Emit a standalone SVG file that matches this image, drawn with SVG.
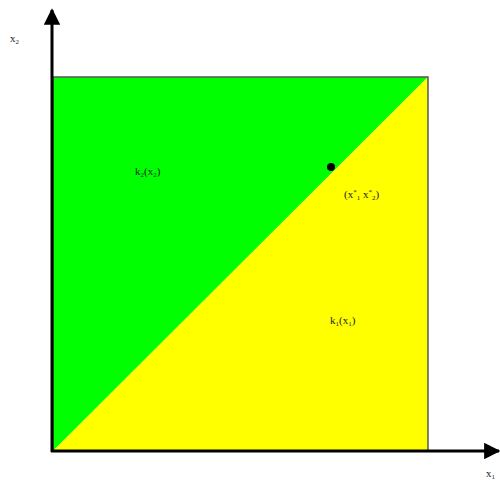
<svg xmlns="http://www.w3.org/2000/svg" width="500" height="483" viewBox="0 0 500 483">
<style>
text{font-family:"Liberation Serif",serif;font-size:11px;fill:#222}
.s{font-size:7px}
.ax{stroke:#000;stroke-width:3;fill:none}
</style>
<defs>
<marker id="ah" viewBox="0 0 10 10" refX="9" refY="5" markerWidth="5.5" markerHeight="5.5" markerUnits="strokeWidth" orient="auto">
<path d="M0,0 L10,5 L0,10 z" fill="#000"/>
</marker>
</defs>
<rect width="500" height="483" fill="#fff"/>
<g id="regions">
<polygon points="53,77 428,77 53,451" fill="#00ff00"/>
<polygon points="428,77 428,451 53,451" fill="#ffff00"/>
<rect x="53" y="77" width="375" height="374" fill="none" stroke="#555" stroke-width="1.5"/>
</g>
<g id="axes">
<line class="ax" x1="52" y1="452" x2="52" y2="10" marker-end="url(#ah)"/>
<line class="ax" x1="51" y1="451" x2="499" y2="451" marker-end="url(#ah)"/>
</g>
<g id="point">
<circle cx="331" cy="167" r="4" fill="#000"/>
</g>
<g id="labels">
<text x="10" y="42">x<tspan class="s" dy="2">2</tspan></text>
<text x="486" y="477">x<tspan class="s" dy="2">1</tspan></text>
<text x="135" y="175">k<tspan class="s" dy="2">2</tspan><tspan dy="-2">(x</tspan><tspan class="s" dy="2">2</tspan><tspan dy="-2">)</tspan></text>
<text x="344" y="198">(x<tspan class="s" dy="-4">*</tspan><tspan class="s" dy="6">1</tspan><tspan dy="-2"> x</tspan><tspan class="s" dy="-4">*</tspan><tspan class="s" dy="6">2</tspan><tspan dy="-2">)</tspan></text>
<text x="330" y="324">k<tspan class="s" dy="2">1</tspan><tspan dy="-2">(x</tspan><tspan class="s" dy="2">1</tspan><tspan dy="-2">)</tspan></text>
</g>
</svg>
